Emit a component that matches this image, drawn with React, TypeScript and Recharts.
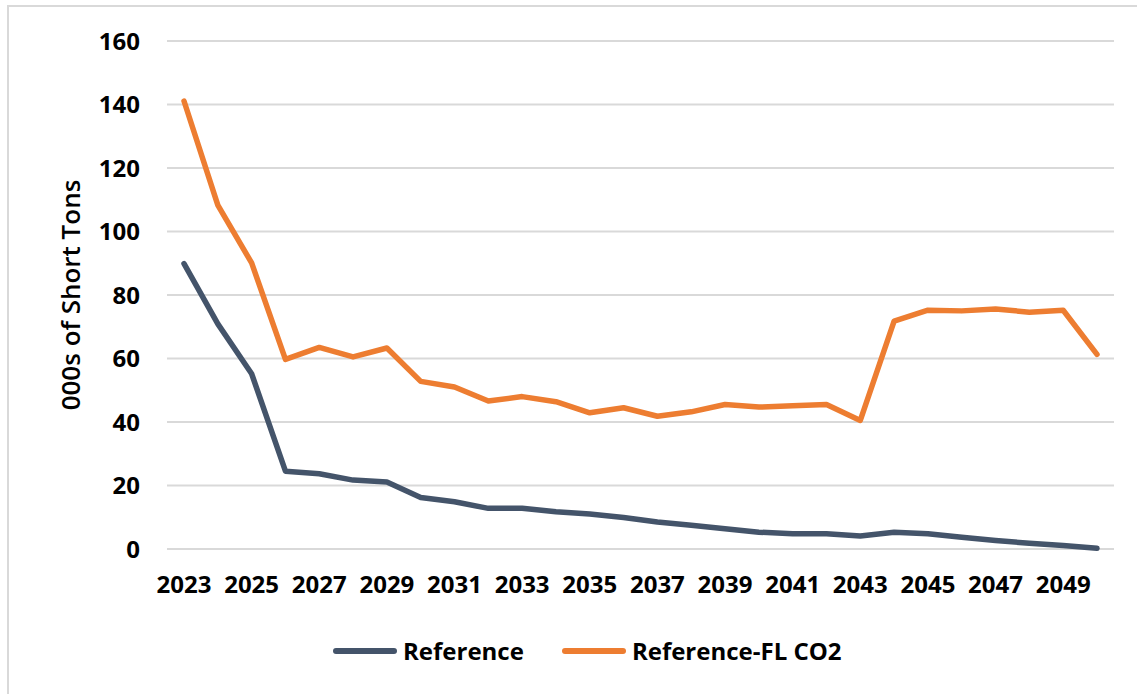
import { LineChart, Line, XAxis, YAxis, CartesianGrid, Legend } from "recharts";

const years = [
  "2023", "2024", "2025", "2026", "2027", "2028", "2029", "2030", "2031", "2032",
  "2033", "2034", "2035", "2036", "2037", "2038", "2039", "2040", "2041", "2042",
  "2043", "2044", "2045", "2046", "2047", "2048", "2049", "2050",
];

const referenceValues = [
  89.9, 70.9, 55.2, 24.5, 23.7, 21.7, 21.1, 16.2, 14.9, 12.8,
  12.8, 11.7, 11.0, 9.9, 8.5, 7.5, 6.4, 5.3, 4.8, 4.8,
  4.1, 5.3, 4.8, 3.7, 2.7, 1.8, 1.1, 0.2,
];

const flCo2Values = [
  141.1, 108.3, 90.1, 59.7, 63.5, 60.5, 63.3, 52.8, 51.0, 46.6,
  48.0, 46.4, 42.9, 44.5, 41.8, 43.2, 45.5, 44.7, 45.1, 45.5,
  40.5, 71.8, 75.2, 75.0, 75.6, 74.6, 75.2, 61.3,
];

const yTicks = [0, 20, 40, 60, 80, 100, 120, 140, 160];

const series = [
  { key: "reference", name: "Reference", color: "#44546A" },
  { key: "flCo2", name: "Reference-FL CO2", color: "#ED7D31" },
];

const FONT = "'Open Sans', 'Noto Sans', sans-serif";

const LegendContent = () => (
  <div style={{ display: "flex", alignItems: "center", marginLeft: 333, fontFamily: FONT, fontWeight: 700, fontSize: 24, color: "#000" }}>
    {series.map((s) => (
      <div key={s.key} style={{ display: "flex", alignItems: "center", marginRight: 38 }}>
        <span style={{ display: "inline-block", width: 64, height: 6, borderRadius: 3, background: s.color, marginRight: 6 }} />
        {s.name}
      </div>
    ))}
  </div>
);

export default function App() {
  // build rows for recharts
  const data = years.map((year, i) => ({
    year,
    reference: referenceValues[i],
    flCo2: flCo2Values[i],
  }));

  const tickStyle = { fontFamily: FONT, fontWeight: 700, fontSize: 24, fill: "#000" };

  return (
    <div style={{ position: "fixed", left: 0, top: 0, width: 1145, height: 694, background: "#fff", overflow: "hidden" }}>
      {/* chart frame */}
      <div style={{ position: "absolute", left: 7, top: 5, width: 1128, height: 700, borderLeft: "2px solid #d9d9d9", borderTop: "2px solid #d9d9d9" }} />
      <LineChart
        width={1145}
        height={694}
        data={data}
        margin={{ top: 41, right: 31, bottom: 85, left: 0 }}
        style={{ position: "absolute", left: 0, top: 0 }}
      >
        <CartesianGrid vertical={false} stroke="#d9d9d9" strokeWidth={2} />
        <XAxis
          dataKey="year"
          interval={1}
          axisLine={false}
          tickLine={false}
          tickMargin={21}
          height={60}
          padding={{ left: 17, right: 17 }}
          tick={tickStyle}
        />
        <YAxis
          domain={[0, 160]}
          ticks={yTicks}
          width={167}
          axisLine={false}
          tickLine={false}
          tickMargin={21}
          tick={tickStyle}
          label={{
            value: "000s of Short Tons",
            angle: -90,
            position: "insideLeft",
            offset: 71,
            style: { textAnchor: "middle", fontFamily: FONT, fontWeight: 600, fontSize: 26, fill: "#000" },
          }}
        />
        <Legend
          layout="horizontal"
          verticalAlign="middle"
          align="center"
          wrapperStyle={{ top: 634, left: 0, width: 1145 }}
          content={<LegendContent />}
        />
        {series.map((s) => (
          <Line
            key={s.key}
            dataKey={s.key}
            name={s.name}
            stroke={s.color}
            strokeWidth={5.5}
            strokeLinejoin="round"
            strokeLinecap="round"
            dot={false}
            activeDot={false}
            isAnimationActive={false}
          />
        ))}
      </LineChart>
    </div>
  );
}
